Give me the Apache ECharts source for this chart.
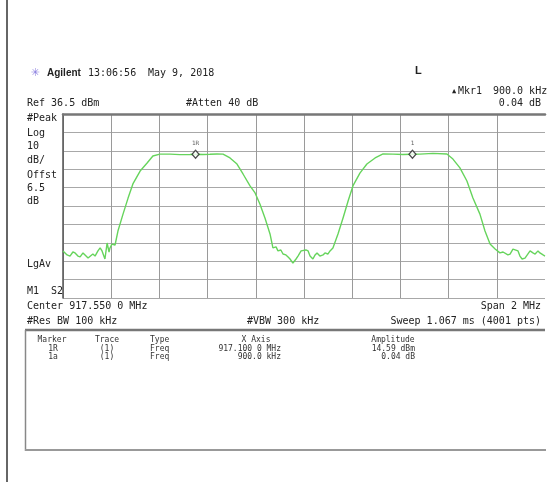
<!DOCTYPE html>
<html>
<head>
<meta charset="utf-8">
<script src="https://cdn.jsdelivr.net/npm/echarts@6/dist/echarts.min.js"></script>
<style>
html,body{margin:0;padding:0;background:#fff;}
#chart{width:558px;height:482px;}
</style>
</head>
<body>
<div id="chart"></div>
<script>
// Instrument settings
const centerMHz = 917.55;
const spanMHz = 2;
const refLevelDbm = 36.5;
const dbPerDiv = 10;

// Trace (frequency in MHz, level in dBm)
const freqMHz = [
  916.550, 916.567, 916.579, 916.591, 916.600, 916.612, 916.621, 916.633, 916.641, 916.654,
  916.662, 916.674, 916.683, 916.695, 916.704, 916.712, 916.724, 916.733, 916.741, 916.745,
  916.753, 916.757, 916.766, 916.778, 916.799, 916.820, 916.840, 916.870, 916.899, 916.923,
  916.952, 916.994, 917.035, 917.077, 917.100, 917.131, 917.160, 917.189, 917.214, 917.243,
  917.272, 917.297, 917.326, 917.347, 917.367, 917.388, 917.409, 917.421, 917.434, 917.442,
  917.454, 917.463, 917.475, 917.484, 917.492, 917.504, 917.517, 917.525, 917.538, 917.546,
  917.558, 917.567, 917.575, 917.587, 917.596, 917.604, 917.616, 917.629, 917.637, 917.649,
  917.658, 917.670, 917.691, 917.712, 917.733, 917.753, 917.782, 917.811, 917.845, 917.878,
  917.919, 917.960, 918.000, 918.031, 918.085, 918.143, 918.168, 918.197, 918.226, 918.251,
  918.280, 918.301, 918.322, 918.343, 918.363, 918.376, 918.384, 918.396, 918.405, 918.417,
  918.425, 918.438, 918.446, 918.455, 918.467, 918.475, 918.488, 918.500, 918.509, 918.521,
  918.529, 918.542, 918.550
];
const levelDbm = [
  -37.9, -40.1, -40.7, -38.5, -39.0, -40.7, -41.2, -39.0, -39.6, -41.8,
  -42.3, -39.6, -40.7, -37.9, -36.3, -37.9, -42.3, -33.6, -38.5, -36.3,
  -34.2, -35.2, -34.7, -27.1, -17.9, -9.2, -1.5, 5.5, 9.9, 13.7,
  14.7, 14.7, 14.4, 14.5, 14.59, 14.5, 14.6, 14.8, 14.7, 12.6,
  9.3, 3.9, -2.6, -6.4, -12.4, -20.0, -28.7, -36.3, -35.7, -37.9,
  -37.4, -39.6, -40.1, -41.2, -42.3, -44.5, -42.3, -40.7, -37.9, -36.9,
  -37.4, -37.9, -40.7, -42.3, -40.1, -39.0, -40.7, -40.1, -39.0, -39.6,
  -37.9, -36.3, -28.7, -20.0, -10.8, -2.6, 4.4, 9.3, 12.6, 14.8,
  14.7, 14.5, 14.63, 14.7, 15.1, 14.8, 12.0, 7.2, 0.1, -9.2,
  -17.9, -27.1, -34.2, -36.9, -39.0, -38.5, -37.9, -40.1, -39.6, -36.9,
  -37.4, -37.9, -40.7, -42.3, -41.8, -42.3, -37.9, -39.0, -39.6, -37.9,
  -39.0, -40.1, -40.7
];

// Markers
const markerNames = ['1R', '1'];
const markerFreqMHz = [917.100, 918.000];
const markerLevelDbm = [14.59, 14.63];

const r6 = v => Math.round(v * 1e6) / 1e6;
const traceData = freqMHz.map((f, i) => [r6(f - centerMHz), r6(levelDbm[i] - refLevelDbm)]);
const markerData = markerFreqMHz.map((f, i) => ({
  value: [r6(f - centerMHz), r6(markerLevelDbm[i] - refLevelDbm)],
  label: { formatter: markerNames[i] }
}));

const MONO = "'DejaVu Sans Mono', 'Liberation Mono', monospace";
function txt(s, x, y, opts) {
  opts = opts || {};
  return {
    type: 'text', silent: true, z: 10,
    style: {
      text: s, x: x, y: y,
      font: (opts.weight || 'normal') + ' ' + (opts.size || 10) + 'px ' + (opts.family || MONO),
      fill: opts.color || '#222',
      textAlign: opts.align || 'left',
      textVerticalAlign: 'middle'
    }
  };
}
function hline(x1, x2, y, w, c) {
  return { type: 'line', silent: true, z: 5, shape: { x1: x1, y1: y, x2: x2, y2: y }, style: { stroke: c, lineWidth: w } };
}
function vline(x, y1, y2, w, c) {
  return { type: 'line', silent: true, z: 5, shape: { x1: x, y1: y1, x2: x, y2: y2 }, style: { stroke: c, lineWidth: w } };
}

const chart = echarts.init(document.getElementById('chart'), null, { renderer: 'canvas' });
chart.setOption({
  animation: false,
  backgroundColor: '#ffffff',
  grid: { left: 63, top: 114, width: 482, height: 184, containLabel: false },
  xAxis: [{
    type: 'value', min: -spanMHz / 2, max: spanMHz / 2, interval: 0.2,
    axisLabel: { show: false }, axisTick: { show: false }, axisLine: { show: false },
    splitLine: { show: true, showMaxLine: false, lineStyle: { color: '#9a9a9a', width: 1 } }
  }, {
    type: 'value', position: 'top', min: -spanMHz / 2, max: spanMHz / 2,
    axisLabel: { show: false }, axisTick: { show: false }, splitLine: { show: false },
    axisLine: { show: true, onZero: false, lineStyle: { color: '#777', width: 2.5 } }
  }],
  yAxis: {
    type: 'value', min: -10 * dbPerDiv, max: 0, interval: dbPerDiv, position: 'left',
    axisLabel: { show: false }, axisTick: { show: false },
    axisLine: { show: true, onZero: false, lineStyle: { color: '#555', width: 1.5 } },
    splitLine: { show: true, lineStyle: { color: '#a8a8a8', width: 1 } }
  },
  series: [{
    type: 'line', data: traceData, showSymbol: false, smooth: false,
    lineStyle: { color: '#66d45c', width: 1.4 }, z: 3
  }, {
    type: 'scatter', data: markerData, symbol: 'diamond', symbolSize: [7, 8],
    itemStyle: { color: '#ffffff', borderColor: '#222', borderWidth: 1.3 },
    label: { show: true, position: 'top', distance: 3, fontSize: 6, color: '#333', fontFamily: MONO },
    z: 4
  }],
  graphic: [
    vline(7, 0, 482, 2, '#666'),
    // header
    { type: 'text', silent: true, style: { text: '✳', x: 35, y: 73, font: '11px DejaVu Sans', fill: '#8c80e0', textAlign: 'center', textVerticalAlign: 'middle' } },
    txt('Agilent', 47, 73, { weight: 'bold', size: 10, family: "'Liberation Sans', Arial, sans-serif" }),
    txt('13:06:56', 88, 73, { size: 10 }),
    txt('May 9, 2018', 148, 73, { size: 10 }),
    txt('L', 415, 71, { weight: 'bold', size: 11, family: "'Liberation Sans', Arial, sans-serif" }),
    txt('▲', 452, 91, { size: 7 }),
    txt('Mkr1', 458, 91, { size: 10 }),
    txt('900.0 kHz', 493, 91, { size: 10 }),
    txt('0.04 dB', 541, 103, { size: 10, align: 'right' }),
    txt('Ref 36.5 dBm', 27, 103, { size: 10 }),
    txt('#Atten 40 dB', 186, 103, { size: 10 }),
    // left annotation
    txt('#Peak', 27, 118, { size: 10 }),
    txt('Log', 27, 133, { size: 10 }),
    txt('10', 27, 146, { size: 10 }),
    txt('dB/', 27, 160, { size: 10 }),
    txt('Offst', 27, 175, { size: 10 }),
    txt('6.5', 27, 188, { size: 10 }),
    txt('dB', 27, 201, { size: 10 }),
    txt('LgAv', 27, 264, { size: 10 }),
    txt('M1  S2', 27, 291, { size: 10 }),
    // bottom annotation
    txt('Center 917.550 0 MHz', 27, 306, { size: 10 }),
    txt('Span 2 MHz', 541, 306, { size: 10, align: 'right' }),
    txt('#Res BW 100 kHz', 27, 321, { size: 10 }),
    txt('#VBW 300 kHz', 247, 321, { size: 10 }),
    txt('Sweep 1.067 ms (4001 pts)', 541, 321, { size: 10, align: 'right' }),
    // table box
    hline(25, 545, 330, 2.5, '#777'),
    vline(25.5, 330, 451, 1.5, '#888'),
    hline(25, 546, 450, 2, '#999'),
    // table text
    txt('Marker', 52, 340, { size: 8, align: 'center', color: '#333' }),
    txt('Trace', 107, 340, { size: 8, align: 'center', color: '#333' }),
    txt('Type', 150, 340, { size: 8, color: '#333' }),
    txt('X Axis', 256, 340, { size: 8, align: 'center', color: '#333' }),
    txt('Amplitude', 393, 340, { size: 8, align: 'center', color: '#333' }),
    txt('1R', 53, 349, { size: 8, align: 'center', color: '#333' }),
    txt('(1)', 107, 349, { size: 8, align: 'center', color: '#333' }),
    txt('Freq', 150, 349, { size: 8, color: '#333' }),
    txt('917.100 0 MHz', 281, 349, { size: 8, align: 'right', color: '#333' }),
    txt('14.59 dBm', 415, 349, { size: 8, align: 'right', color: '#333' }),
    txt('1a', 53, 357, { size: 8, align: 'center', color: '#333' }),
    txt('(1)', 107, 357, { size: 8, align: 'center', color: '#333' }),
    txt('Freq', 150, 357, { size: 8, color: '#333' }),
    txt('900.0 kHz', 281, 357, { size: 8, align: 'right', color: '#333' }),
    txt('0.04 dB', 415, 357, { size: 8, align: 'right', color: '#333' })
  ]
});
</script>
</body>
</html>
